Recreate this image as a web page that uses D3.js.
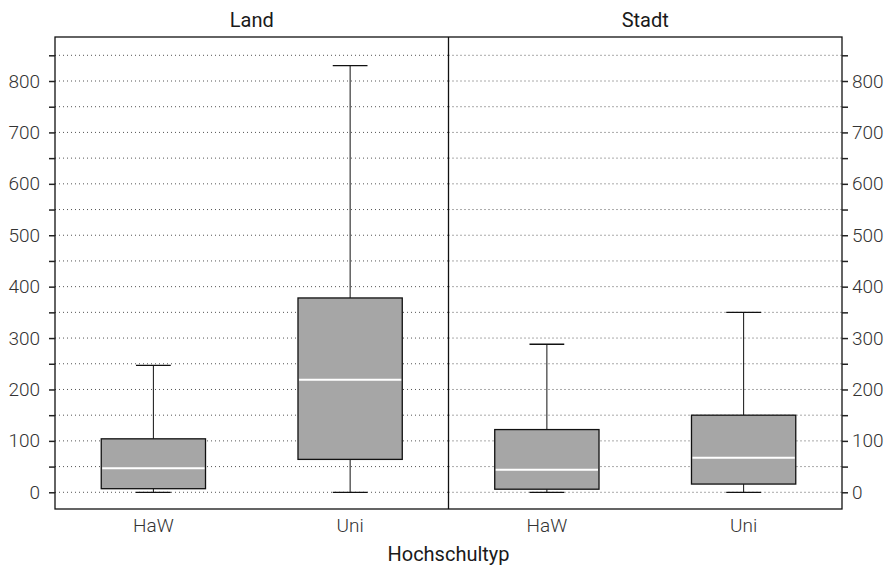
<!DOCTYPE html>
<html>
<head>
<meta charset="utf-8">
<script src="https://cdn.jsdelivr.net/npm/d3@7"></script>
<style>
  body { margin: 0; background: #fff; }
  svg text { font-family: Roboto, "Liberation Sans", sans-serif; fill: #1a1a1a; }
</style>
</head>
<body>
<svg id="chart" width="893" height="568"></svg>
<script>
// Box plot of two panels (Land / Stadt), faceted by Hochschultyp

const panels = ["Land", "Stadt"];
const types = ["HaW", "Uni"];

// five-number summaries per panel, in order of types
const mins    = [[0, 0],   [0, 0]];
const q1s     = [[7, 64],  [6, 16]];
const medians = [[47, 219], [44, 67]];
const q3s     = [[104, 378], [122, 150]];
const maxs    = [[247, 830], [288, 350]];

const yTicks = d3.range(0, 900, 50);

const svg = d3.select("#chart");
const margin = {left: 55, right: 51, top: 37, bottom: 59};
const W = 893, H = 568;
const plotW = W - margin.left - margin.right;
const plotH = H - margin.top - margin.bottom;

const y = d3.scaleLinear().domain([-32.5, 885.6]).range([margin.top + plotH, margin.top]);

const panelX = d3.scaleBand().domain(panels).range([margin.left, margin.left + plotW]);

panels.forEach((p, pi) => {
  const x0 = panelX(p);
  const x = d3.scaleBand().domain(types).range([x0, x0 + panelX.bandwidth()]).paddingInner(0.47).paddingOuter(0.235);
  const g = svg.append("g");

  // dotted gridlines
  g.selectAll("line.grid").data(yTicks).join("line")
    .attr("x1", x0).attr("x2", x0 + panelX.bandwidth())
    .attr("y1", d => y(d)).attr("y2", d => y(d))
    .attr("stroke", "#555").attr("stroke-width", 1)
    .attr("stroke-dasharray", "1,3");

  // panel title
  svg.append("text")
    .attr("x", x0 + panelX.bandwidth() / 2).attr("y", 27)
    .attr("text-anchor", "middle").attr("font-size", 20)
    .text(p);

  types.forEach((t, ti) => {
    const cx = x(t) + x.bandwidth() / 2;
    const bw = x.bandwidth();
    const cap = bw / 3;
    // whiskers
    g.append("line").attr("x1", cx).attr("x2", cx)
      .attr("y1", y(maxs[pi][ti])).attr("y2", y(q3s[pi][ti]))
      .attr("stroke", "#111").attr("stroke-width", 1);
    g.append("line").attr("x1", cx).attr("x2", cx)
      .attr("y1", y(q1s[pi][ti])).attr("y2", y(mins[pi][ti]))
      .attr("stroke", "#111").attr("stroke-width", 1);
    g.append("line").attr("x1", cx - cap / 2).attr("x2", cx + cap / 2)
      .attr("y1", y(maxs[pi][ti])).attr("y2", y(maxs[pi][ti]))
      .attr("stroke", "#111").attr("stroke-width", 1.3);
    g.append("line").attr("x1", cx - cap / 2).attr("x2", cx + cap / 2)
      .attr("y1", y(mins[pi][ti])).attr("y2", y(mins[pi][ti]))
      .attr("stroke", "#111").attr("stroke-width", 1.3);
    // box
    g.append("rect").attr("x", x(t)).attr("width", bw)
      .attr("y", y(q3s[pi][ti])).attr("height", y(q1s[pi][ti]) - y(q3s[pi][ti]))
      .attr("fill", "#a6a6a6").attr("stroke", "#111").attr("stroke-width", 1.3);
    // median
    g.append("line").attr("x1", x(t) + 1).attr("x2", x(t) + bw - 1)
      .attr("y1", y(medians[pi][ti])).attr("y2", y(medians[pi][ti]))
      .attr("stroke", "#fff").attr("stroke-width", 2);
    // category label
    svg.append("text").attr("x", cx).attr("y", 532)
      .attr("text-anchor", "middle").attr("font-size", 19)
      .attr("font-weight", 300).style("fill", "#333")
      .text(t);
  });
});

// frame and panel divider
svg.append("rect").attr("x", margin.left).attr("y", margin.top)
  .attr("width", plotW).attr("height", plotH)
  .attr("fill", "none").attr("stroke", "#111").attr("stroke-width", 1.3);
svg.append("line").attr("x1", panelX("Stadt")).attr("x2", panelX("Stadt"))
  .attr("y1", margin.top).attr("y2", margin.top + plotH)
  .attr("stroke", "#111").attr("stroke-width", 1.3);

// left and right y axes
const tickFmt = d => (d % 100 === 0 ? d : "");
const yLeft = svg.append("g").attr("transform", `translate(${margin.left},0)`)
  .call(d3.axisLeft(y).tickValues(yTicks).tickFormat(tickFmt).tickSize(6).tickPadding(9));
const yRight = svg.append("g").attr("transform", `translate(${margin.left + plotW},0)`)
  .call(d3.axisRight(y).tickValues(yTicks).tickFormat(tickFmt).tickSize(6).tickPadding(4));
[yLeft, yRight].forEach(a => {
  a.select(".domain").remove();
  a.selectAll(".tick line").attr("stroke", "#222").attr("stroke-width", 1.5);
  a.selectAll("text").attr("font-size", 19).attr("font-weight", 300)
    .style("fill", "#333")
    .style("font-family", "Roboto, 'Liberation Sans', sans-serif");
});

// x axis title
svg.append("text").attr("x", margin.left + plotW / 2).attr("y", 561)
  .attr("text-anchor", "middle").attr("font-size", 20)
  .text("Hochschultyp");
</script>
</body>
</html>
